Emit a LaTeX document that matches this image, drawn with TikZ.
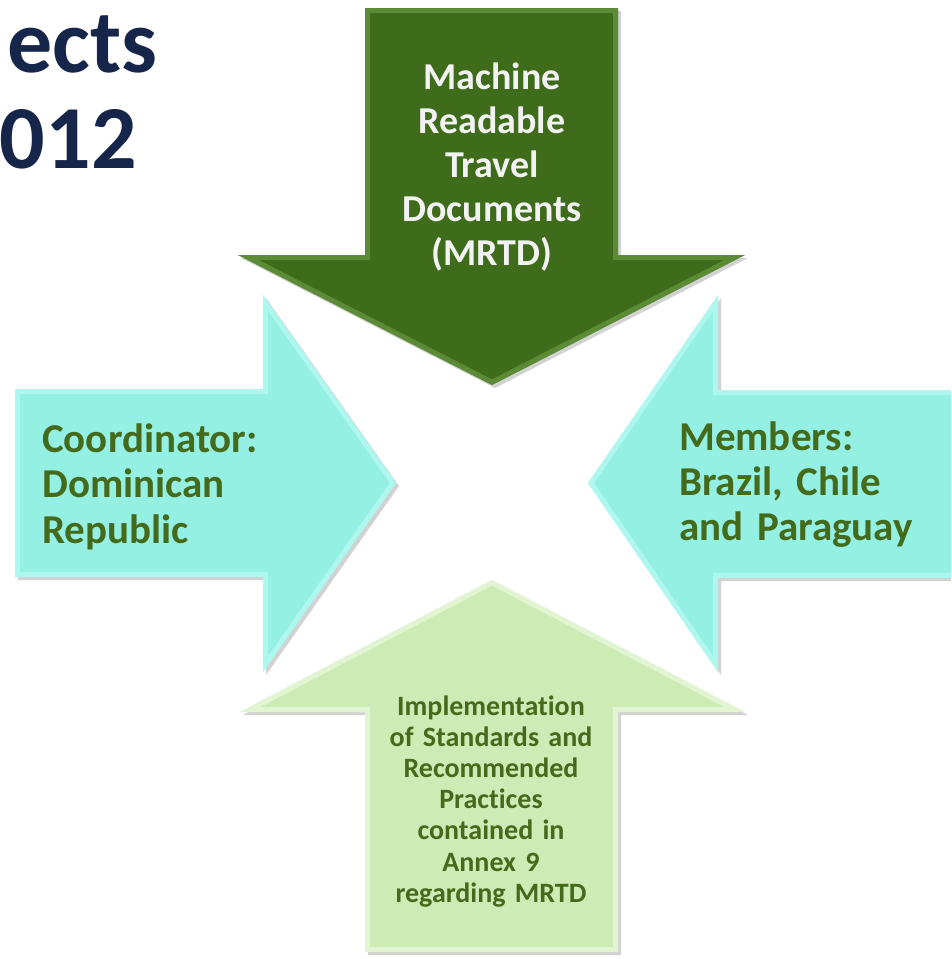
\documentclass[tikz,border=0pt]{standalone}
\usepackage{fontspec}
\setmainfont{Carlito}[Ligatures=NoCommon]
\usetikzlibrary{shadows}
\definecolor{mrtdgreen}{RGB}{63,108,27}
\definecolor{mrtdband}{RGB}{110,160,70}
\definecolor{aqua}{RGB}{149,240,228}
\definecolor{aquaband}{RGB}{190,252,245}
\definecolor{palegreen}{RGB}{205,235,180}
\definecolor{paleband}{RGB}{236,250,224}
\definecolor{labelgreen}{RGB}{68,106,28}
\definecolor{titlenavy}{RGB}{22,38,74}
\begin{document}
\begin{tikzpicture}[x=1pt,y=-1pt,
  arrowshape/.style={drop shadow={opacity=0.35,shadow xshift=3pt,shadow yshift=-3pt}},
  labeltext/.style={inner sep=0pt,font=\bfseries},
  titletext/.style={inner sep=0pt,font=\fontsize{90}{100}\selectfont\bfseries,text=titlenavy}]
\useasboundingbox (0,0) rectangle (951,959);
\clip (0,0) rectangle (951,959);
\fill[white] (0,0) rectangle (951,959);
\def\toparrow{(365,8) -- (618,8) -- (618,255) -- (745,255) -- (492,385) -- (238,255) -- (365,255) -- cycle}
\def\leftarrow{(15,389) -- (263,389) -- (263,295) -- (396,483) -- (263,672) -- (263,577) -- (15,577) -- cycle}
\def\rightarrow{(980,390) -- (718,390) -- (718,295) -- (588,483) -- (718,672) -- (718,578) -- (980,578) -- cycle}
\def\bottomarrow{(365,952) -- (618,952) -- (618,712) -- (745,712) -- (492,580) -- (240,712) -- (365,712) -- cycle}
% top arrow
\fill[mrtdgreen,arrowshape] \toparrow;
\begin{scope}\clip \toparrow; \draw[mrtdband,line width=10pt,opacity=0.6,line join=miter] \toparrow; \end{scope}
% left arrow
\fill[aqua,arrowshape] \leftarrow;
\begin{scope}\clip \leftarrow; \draw[aquaband,line width=10pt,opacity=0.6] \leftarrow; \end{scope}
% right arrow
\fill[aqua,arrowshape] \rightarrow;
\begin{scope}\clip \rightarrow; \draw[aquaband,line width=10pt,opacity=0.6] \rightarrow; \end{scope}
% bottom arrow
\fill[palegreen,arrowshape] \bottomarrow;
\begin{scope}\clip \bottomarrow; \draw[paleband,line width=10pt,opacity=0.7] \bottomarrow; \end{scope}
% labels
\node[labeltext,anchor=base,text width=260pt,align=center,text={rgb,255:red,242;green,242;blue,242},font=\fontsize{38}{44}\selectfont\bfseries] (mrtd) at (492,89) {Machine\\Readable\\Travel\\Documents\\(MRTD)};
\node[labeltext,anchor=base west,text width=240pt,align=left,text=labelgreen,font=\fontsize{41}{45.5}\selectfont\bfseries] (coord) at (42,452) {Coordinator:\\Dominican\\Republic};
\node[labeltext,anchor=base west,text width=265pt,align=left,text=labelgreen,font=\fontsize{41}{45}\selectfont\bfseries] (members) at (679,450) {Members:\\Brazil, Chile\\and Paraguay};
\node[labeltext,anchor=base,text width=230pt,align=center,text=labelgreen,font=\fontsize{28}{31.2}\selectfont\bfseries] (impl) at (491,715) {Implementation\\of Standards and\\Recommended\\Practices\\contained in\\Annex 9\\regarding MRTD};
% title fragments
\node[titletext,anchor=base east] (title1) at (158,72) {ects};
\node[titletext,anchor=base east] (title2) at (137,168) {012};
\end{tikzpicture}
\end{document}
